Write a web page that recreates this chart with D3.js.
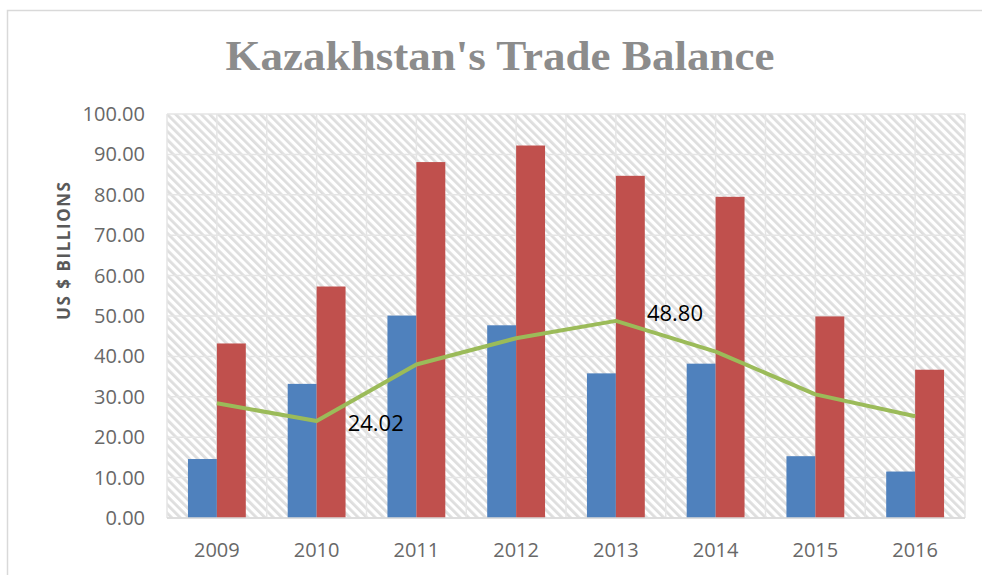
<!DOCTYPE html>
<html lang="en">
<head>
    <meta charset="UTF-8">
    <title>Kazakhstan's Trade Balance</title>
    <script src="https://d3js.org/d3.v7.min.js"></script>
    <style>
        body {
            margin: 0;
            background-color: #fff;
        }
        .tick-label {
            fill: #686868;
            font-family: "Open Sans", Arial, sans-serif;
            font-size: 20px;
        }
    </style>
</head>
<body>
    <div id="chart"></div>
    <script>
        // chart data
        const years = ['2009', '2010', '2011', '2012', '2013', '2014', '2015', '2016'];
        const imports = [14.6, 33.2, 50.1, 47.7, 35.8, 38.2, 15.3, 11.5];
        const exports = [43.2, 57.3, 88.1, 92.2, 84.7, 79.5, 49.9, 36.7];
        const balance = [28.4, 24.02, 38.0, 44.5, 48.80, 41.2, 30.6, 25.2];
        const yTicks = [0, 10, 20, 30, 40, 50, 60, 70, 80, 90, 100];
        const labelledYears = ['2010', '2013'];

        const width = 982, height = 575;
        const plot = { left: 167, right: 965, top: 114, bottom: 518 };

        const svg = d3.select('#chart').append('svg')
            .attr('width', width)
            .attr('height', height);

        // outer chart frame
        svg.append('rect')
            .attr('x', 7.5).attr('y', 10.5)
            .attr('width', 1000).attr('height', 600)
            .attr('fill', 'none')
            .attr('stroke', '#d9d9d9')
            .attr('stroke-width', 1.5);

        // striped plot background
        const defs = svg.append('defs');
        const pat = defs.append('pattern')
            .attr('id', 'stripes')
            .attr('patternUnits', 'userSpaceOnUse')
            .attr('width', 6).attr('height', 6)
            .attr('patternTransform', 'rotate(-45)');
        pat.append('rect').attr('width', 6).attr('height', 6).attr('fill', '#fff');
        pat.append('rect').attr('width', 2.8).attr('height', 6).attr('fill', '#dedede');

        const x = d3.scaleBand()
            .domain(years)
            .range([plot.left, plot.right])
            .padding(0);

        const y = d3.scaleLinear()
            .domain([0, 100])
            .range([plot.bottom, plot.top]);

        svg.append('rect')
            .attr('x', plot.left).attr('y', plot.top)
            .attr('width', plot.right - plot.left)
            .attr('height', plot.bottom - plot.top)
            .attr('fill', 'url(#stripes)');

        // gridlines
        const grid = svg.append('g').attr('stroke', '#e5e5e5').attr('stroke-width', 1.5);
        grid.selectAll('.hgrid')
            .data(yTicks)
            .enter().append('line')
            .attr('x1', plot.left).attr('x2', plot.right)
            .attr('y1', d => y(d)).attr('y2', d => y(d));

        const vlines = [];
        years.forEach(yr => {
            vlines.push(x(yr));
            vlines.push(x(yr) + x.bandwidth() / 2);
        });
        vlines.push(plot.right);
        grid.selectAll('.vgrid')
            .data(vlines)
            .enter().append('line')
            .attr('x1', d => d).attr('x2', d => d)
            .attr('y1', plot.top).attr('y2', plot.bottom);

        // bars
        const barW = x.bandwidth() * 0.29;
        const bars = svg.append('g');
        bars.selectAll('.imp')
            .data(imports)
            .enter().append('rect')
            .attr('x', (d, i) => x(years[i]) + x.bandwidth() / 2 - barW)
            .attr('y', d => y(d))
            .attr('width', barW)
            .attr('height', d => y(0) - y(d))
            .attr('fill', '#4f81bd');
        bars.selectAll('.exp')
            .data(exports)
            .enter().append('rect')
            .attr('x', (d, i) => x(years[i]) + x.bandwidth() / 2)
            .attr('y', d => y(d))
            .attr('width', barW)
            .attr('height', d => y(0) - y(d))
            .attr('fill', '#c0504d');

        // x axis line
        svg.append('line')
            .attr('x1', plot.left).attr('x2', plot.right)
            .attr('y1', plot.bottom).attr('y2', plot.bottom)
            .attr('stroke', '#d9d9d9')
            .attr('stroke-width', 1.5);

        // trade balance line
        const line = d3.line()
            .x((d, i) => x(years[i]) + x.bandwidth() / 2)
            .y(d => y(d));
        svg.append('path')
            .datum(balance)
            .attr('d', line)
            .attr('fill', 'none')
            .attr('stroke', '#9bbb59')
            .attr('stroke-width', 4)
            .attr('stroke-linejoin', 'round');

        // data labels
        svg.selectAll('.dlabel')
            .data(labelledYears)
            .enter().append('text')
            .attr('x', d => x(d) + x.bandwidth() / 2 + 31)
            .attr('y', d => y(balance[years.indexOf(d)]) + (d === '2013' ? 0 : 10))
            .attr('font-family', '"Open Sans", Arial, sans-serif')
            .attr('font-size', 22)
            .attr('fill', '#000')
            .text(d => balance[years.indexOf(d)].toFixed(2));

        // y tick labels
        svg.selectAll('.ylab')
            .data(yTicks)
            .enter().append('text')
            .attr('class', 'tick-label')
            .attr('x', 145)
            .attr('y', d => y(d))
            .attr('dy', '0.35em')
            .attr('text-anchor', 'end')
            .text(d => d.toFixed(2));

        // x tick labels
        svg.selectAll('.xlab')
            .data(years)
            .enter().append('text')
            .attr('class', 'tick-label')
            .attr('x', d => x(d) + x.bandwidth() / 2)
            .attr('y', 557)
            .attr('text-anchor', 'middle')
            .text(d => d);

        // axis title
        svg.append('text')
            .attr('transform', 'translate(70, 251) rotate(-90)')
            .attr('text-anchor', 'middle')
            .attr('font-family', '"Open Sans", Arial, sans-serif')
            .attr('font-weight', 'bold')
            .attr('font-size', 17)
            .attr('fill', '#595959')
            .attr('textLength', 138)
            .text('US $ BILLIONS');

        // title
        svg.append('text')
            .attr('x', 500)
            .attr('y', 70)
            .attr('text-anchor', 'middle')
            .attr('font-family', '"Liberation Serif", "DejaVu Serif", serif')
            .attr('font-weight', 'bold')
            .attr('font-size', 42)
            .attr('fill', '#8c8c8c')
            .attr('textLength', 549)
            .attr('lengthAdjust', 'spacingAndGlyphs')
            .text("Kazakhstan's Trade Balance");
    </script>
</body>
</html>
